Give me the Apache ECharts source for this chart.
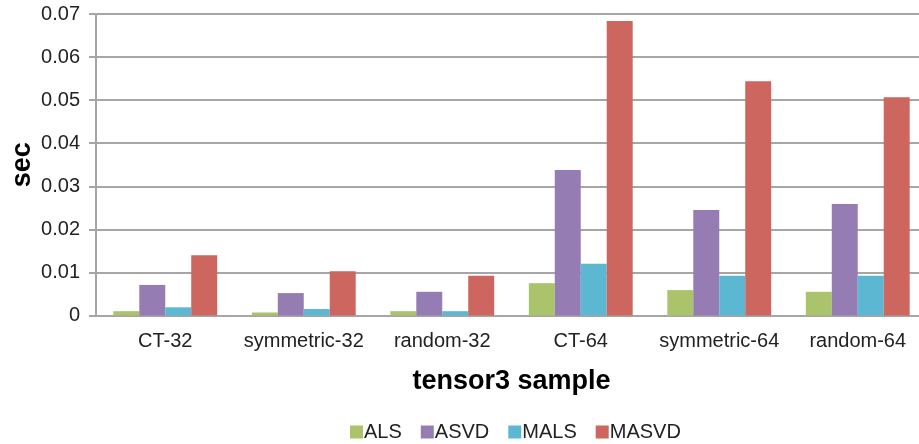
<!DOCTYPE html>
<html><head><meta charset="utf-8">
<script src="https://cdn.jsdelivr.net/npm/echarts@6/dist/echarts.min.js"></script>
<style>html,body{margin:0;padding:0;background:#fff}#c{width:919px;height:444px}</style>
</head><body><div id="c"></div>
<script>
const categories = ['CT-32','symmetric-32','random-32','CT-64','symmetric-64','random-64'];
const seriesNames = ['ALS','ASVD','MALS','MASVD'];
const als   = [0.0010, 0.0007, 0.0010, 0.0075, 0.0059, 0.0055];
const asvd  = [0.0071, 0.0052, 0.0055, 0.0338, 0.0245, 0.0259];
const mals  = [0.0019, 0.0015, 0.0010, 0.0120, 0.0092, 0.0092];
const masvd = [0.0140, 0.0103, 0.0092, 0.0684, 0.0544, 0.0507];
const yTicks = [0, 0.01, 0.02, 0.03, 0.04, 0.05, 0.06, 0.07];
const colors = ['#ABC36A','#957DB3','#5CB8D2','#CD665E'];
const font = 'Liberation Sans';
const chart = echarts.init(document.getElementById('c'));
const data = [als, asvd, mals, masvd];
chart.setOption({
  animation: false,
  color: colors,
  textStyle: {fontFamily: font},
  legend: {
    bottom: -3, left: 345, itemWidth: 13, itemHeight: 13, itemGap: 19,
    icon: 'rect',
    textStyle: {fontSize: 20, color: '#222', fontFamily: font, padding: [0,0,0,-4]},
    data: seriesNames
  },
  grid: {left: 96, top: 14, width: 831, height: 301.5, containLabel: false, outerBoundsMode: 'none'},
  xAxis: {
    type: 'category', data: categories,
    name: 'tensor3 sample', nameLocation: 'middle', nameGap: 53,
    nameTextStyle: {fontSize: 27, fontWeight: 'bold', color: '#000', fontFamily: font},
    axisLine: {lineStyle: {color: '#A6A6A6', width: 2}},
    axisTick: {show: false},
    axisLabel: {fontSize: 20, color: '#222', margin: 16, fontFamily: font, interval: 0, hideOverlap: false}
  },
  yAxis: {
    type: 'value', min: 0, max: 0.07, interval: 0.01,
    name: 'sec', nameLocation: 'middle', nameGap: 60, nameRotate: 90, nameMoveOverlap: false,
    nameTextStyle: {fontSize: 27, fontWeight: 'bold', color: '#000', fontFamily: font},
    axisLine: {show: true, lineStyle: {color: '#A6A6A6', width: 2}},
    axisTick: {show: true, length: 7, lineStyle: {color: '#A6A6A6', width: 2}},
    splitLine: {lineStyle: {color: '#A6A6A6', width: 2}},
    axisLabel: {fontSize: 20, color: '#222', margin: 16, fontFamily: font,
      formatter: v => { const t = yTicks.find(x => Math.abs(x - v) < 1e-9); return t === 0 ? '0' : (t !== undefined ? t.toFixed(2) : ''); }}
  },
  series: seriesNames.map((n, i) => ({
    name: n, type: 'bar', data: data[i], barGap: '0%', barCategoryGap: '25%',
    itemStyle: {color: colors[i]}
  }))
});
</script></body></html>
